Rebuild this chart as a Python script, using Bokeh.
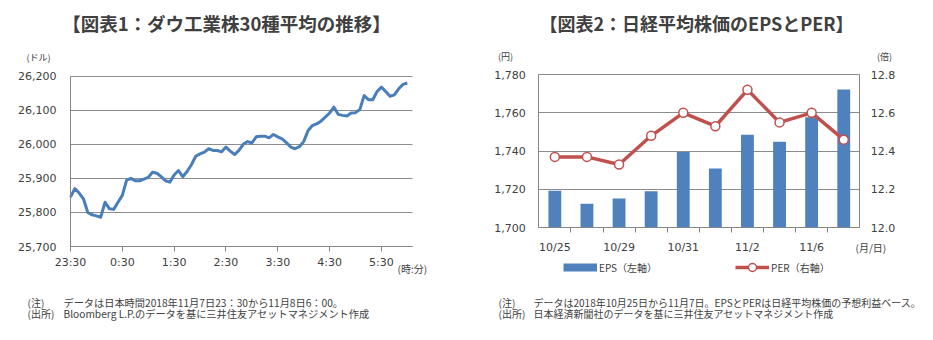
from bokeh.plotting import figure
from bokeh.models import (Range1d, LinearAxis, FixedTicker, NumeralTickFormatter, Grid,
                          Label, Legend, LegendItem, ColumnDataSource)
from bokeh.layouts import row
from bokeh.embed import file_html
from bokeh.resources import INLINE

# ---------------- data ----------------
# Chart 1: Dow Jones 30 (minutes after 23:30 JST, 5-minute steps)
dow_minutes = list(range(0, 391, 5))
dow_values = [
    25845, 25870, 25857, 25840, 25800, 25793, 25790, 25786, 25830, 25811,
    25809, 25830, 25850, 25895, 25900, 25893, 25893, 25898, 25903, 25918,
    25915, 25905, 25893, 25889, 25910, 25923, 25905, 25920, 25940, 25965,
    25972, 25977, 25987, 25982, 25982, 25978, 25992, 25980, 25970, 25982,
    26000, 26008, 26004, 26022, 26024, 26024, 26019, 26029, 26022, 26016,
    26005, 25992, 25987, 25993, 26008, 26040, 26055, 26060, 26068, 26080,
    26092, 26109, 26088, 26085, 26083, 26092, 26093, 26102, 26143, 26131,
    26131, 26155, 26168, 26155, 26141, 26145, 26163, 26176, 26180,
]
dow_tick_minutes = [0, 60, 120, 180, 240, 300, 360]
dow_tick_labels = ["23:30", "0:30", "1:30", "2:30", "3:30", "4:30", "5:30"]
dow_y_ticks = [25700, 25800, 25900, 26000, 26100, 26200]

# Chart 2: Nikkei EPS and PER
eps_dates = ["10/25", "10/26", "10/29", "10/30", "10/31", "11/1", "11/2", "11/5", "11/6", "11/7"]
eps_values = [1719.3, 1712.5, 1715.3, 1719.1, 1739.5, 1731.0, 1748.5, 1744.9, 1757.7, 1772.2]
per_values = [12.37, 12.37, 12.33, 12.48, 12.60, 12.53, 12.72, 12.55, 12.60, 12.46]
eps_y_ticks = [1700, 1720, 1740, 1760, 1780]
per_y_ticks = [12.0, 12.2, 12.4, 12.6, 12.8]

# ---------------- style ----------------
JP = "Noto Sans CJK JP"
NUM = "DejaVu Sans"
TXT = "#404040"
AX = "#868686"
GRID = "#8c8c8c"
BLUE = "#4A7EBB"
BAR = "#4F81BD"
RED = "#C0504D"


def full_range(d0, d1, p0, p1, total, invert=False):
    """Range covering the whole canvas so that data d0..d1 lands on pixels p0..p1."""
    s = (d1 - d0) / (p1 - p0)
    if invert:  # pixel y grows downward, p0 = top (d1), p1 = bottom (d0)
        return Range1d(d0 - (total - p1) * s, d1 + p0 * s)
    return Range1d(d0 - p0 * s, d1 + (total - p1) * s)


def lab(p, H, X, Y, text, size="10px", align="left", bold=False, color=TXT):
    p.add_layout(Label(x=X, y=H - Y, x_units="screen", y_units="screen", text=text,
                       text_font=JP, text_font_size=size, text_align=align,
                       text_baseline="middle", text_color=color,
                       text_font_style="bold" if bold else "normal"))


def style_axis(ax):
    ax.axis_line_color = AX
    ax.major_tick_line_color = AX
    ax.minor_tick_line_color = AX
    ax.major_tick_out = 0
    ax.major_tick_in = 0
    ax.minor_tick_in = 0
    ax.minor_tick_out = 0
    ax.major_label_text_font = NUM
    ax.major_label_text_font_size = "11px"
    ax.major_label_text_color = TXT


def base_fig(W, H, xr, yr):
    p = figure(width=W, height=H, output_backend="svg", toolbar_location=None,
               x_range=xr, y_range=yr, x_axis_location=None, y_axis_location=None,
               min_border=0, min_border_left=0, min_border_right=0,
               min_border_top=0, min_border_bottom=0)
    p.outline_line_color = None
    p.grid.visible = False
    return p


# ---------------- chart 1 ----------------
W1, H1 = 466, 340
L1, R1, T1, B1 = 70, 412, 75.7, 246
X1 = (0, 396)
Y1 = (dow_y_ticks[0], dow_y_ticks[-1])
p1 = base_fig(W1, H1, full_range(X1[0], X1[1], L1, R1, W1),
              full_range(Y1[0], Y1[1], T1, B1, H1, invert=True))

yax1 = LinearAxis(ticker=FixedTicker(ticks=dow_y_ticks), formatter=NumeralTickFormatter(format="0,0"),
                  fixed_location=X1[0], bounds=Y1)
style_axis(yax1)
yax1.major_label_standoff = 14
p1.add_layout(yax1, "left")

xax1 = LinearAxis(ticker=FixedTicker(ticks=dow_tick_minutes), fixed_location=Y1[0], bounds=X1)
style_axis(xax1)
xax1.major_label_overrides = dict(zip(dow_tick_minutes, dow_tick_labels))
xax1.major_tick_out = 5
xax1.major_label_standoff = 4
p1.add_layout(xax1, "below")

p1.add_layout(Grid(dimension=1, ticker=FixedTicker(ticks=dow_y_ticks), bounds=Y1,
                   cross_bounds=X1, grid_line_color=GRID))

p1.line(dow_minutes, dow_values, line_color=BLUE, line_width=3, line_join="round")

lab(p1, H1, 226, 22, "【図表1：ダウ工業株30種平均の推移】", size="18.5px", align="center", bold=True)
lab(p1, H1, 38, 57, "(ドル)", size="9px", align="center")
lab(p1, H1, 397, 268, "(時:分)", size="10px")
lab(p1, H1, 27, 302, "(注)", size="10px")
lab(p1, H1, 63, 302, "データは日本時間2018年11月7日23：30から11月8日6：00。", size="10.2px")
lab(p1, H1, 27, 313, "(出所)", size="10px")
lab(p1, H1, 63, 313, "Bloomberg L.P.のデータを基に三井住友アセットマネジメント作成", size="10.2px")

# ---------------- chart 2 ----------------
W2, H2 = 467, 340
L2, R2, T2, B2 = 72.3, 393.3, 74, 227.3
idx = list(range(len(eps_dates)))
X2 = (-0.5, len(eps_dates) - 0.5)
Y2 = (eps_y_ticks[0], eps_y_ticks[-1])
P2 = (per_y_ticks[0], per_y_ticks[-1])
src = ColumnDataSource(dict(x=idx, eps=eps_values, per=per_values))

p2 = base_fig(W2, H2, full_range(X2[0], X2[1], L2, R2, W2),
              full_range(Y2[0], Y2[1], T2, B2, H2, invert=True))
p2.extra_y_ranges = {"per": full_range(P2[0], P2[1], T2, B2, H2, invert=True)}

yax2 = LinearAxis(ticker=FixedTicker(ticks=eps_y_ticks), formatter=NumeralTickFormatter(format="0,0"),
                  fixed_location=X2[0], bounds=Y2)
style_axis(yax2)
yax2.major_label_standoff = 13
p2.add_layout(yax2, "left")

rax2 = LinearAxis(y_range_name="per", ticker=FixedTicker(ticks=per_y_ticks),
                  formatter=NumeralTickFormatter(format="0.0"), fixed_location=X2[1], bounds=P2)
style_axis(rax2)
rax2.major_label_standoff = 11
p2.add_layout(rax2, "right")

label_idx = idx[::2]
xax2 = LinearAxis(ticker=FixedTicker(ticks=label_idx, minor_ticks=[i + 0.5 for i in idx[:-1]]),
                  fixed_location=Y2[0], bounds=X2)
style_axis(xax2)
xax2.major_label_overrides = {i: eps_dates[i] for i in label_idx}
xax2.major_label_standoff = 8
xax2.minor_tick_out = 5
p2.add_layout(xax2, "below")

p2.add_layout(Grid(dimension=1, ticker=FixedTicker(ticks=eps_y_ticks), bounds=Y2,
                   cross_bounds=X2, grid_line_color=GRID))

bars = p2.vbar(x="x", top="eps", bottom=Y2[0], width=0.4, source=src,
               fill_color=BAR, line_color=None)
pline = p2.line(x="x", y="per", source=src, y_range_name="per",
                line_color=RED, line_width=3.5)
pts = p2.scatter(x="x", y="per", source=src, y_range_name="per", size=9,
                 fill_color="white", line_color=RED, line_width=1.5)
# legend key for the bars (thin bar swatch); it has no visible data of its own
eps_key = p2.line(x=[float("nan")], y=[float("nan")], line_color=BAR, line_width=8, line_cap="butt")

legend = Legend(items=[LegendItem(label="EPS（左軸）", renderers=[eps_key]),
                       LegendItem(label="PER（右軸）", renderers=[pline, pts])],
                orientation="horizontal", location=(97, H2 - 277),
                glyph_width=34, glyph_height=20, label_standoff=2, spacing=78,
                padding=0, margin=0, border_line_color=None, background_fill_alpha=0,
                label_text_font=JP, label_text_font_size="10px", label_text_color=TXT)
p2.add_layout(legend, "center")

lab(p2, H2, 230, 22, "【図表2：日経平均株価のEPSとPER】", size="18px", align="center", bold=True)
lab(p2, H2, 39, 56, "(円)", size="9px", align="center")
lab(p2, H2, 418, 56, "(倍)", size="9px", align="center")
lab(p2, H2, 389, 247, "(月/日)", size="10px")
lab(p2, H2, 32, 302, "(注)", size="10px")
lab(p2, H2, 67, 302, "データは2018年10月25日から11月7日。EPSとPERは日経平均株価の予想利益ベース。", size="10px")
lab(p2, H2, 32, 313, "(出所)", size="10px")
lab(p2, H2, 67, 313, "日本経済新聞社のデータを基に三井住友アセットマネジメント作成", size="10px")

layout = row(p1, p2)
open("out.html", "w").write(file_html(layout, INLINE))
